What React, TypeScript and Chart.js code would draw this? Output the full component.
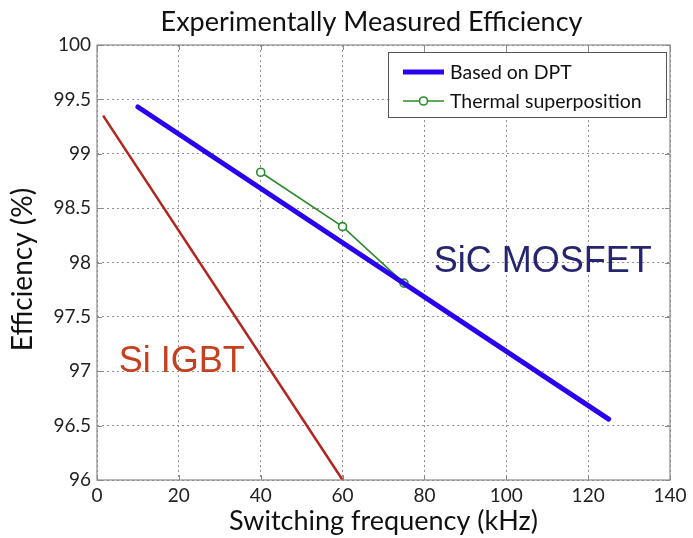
import React, { useEffect, useRef } from "react";
import { Chart, registerables } from "chart.js";

Chart.register(...registerables);

const TITLE = "Experimentally Measured Efficiency";
const X_LABEL = "Switching frequency (kHz)";
const Y_LABEL = "Efficiency (%)";

const dptFreq = [10, 125];
const dptEff = [99.43, 96.56];

const thermalFreq = [40, 60, 75];
const thermalEff = [98.83, 98.33, 97.81];

const igbtFreq = [1.5, 60];
const igbtEff = [99.35, 96.0];

const xTicks = [0, 20, 40, 60, 80, 100, 120, 140];
const yTicks = [96, 96.5, 97, 97.5, 98, 98.5, 99, 99.5, 100];

const annotations = [
  { text: "SiC MOSFET", x: 108.9, y: 98.0, color: "#26256f" },
  { text: "Si IGBT", x: 20.7, y: 97.08, color: "#c4401f" },
];

const FONT = "Lato, 'Open Sans', sans-serif";

const zip = (xs: number[], ys: number[]) => xs.map((x, i) => ({ x, y: ys[i] }));

const decorPlugin = {
  id: "decor",
  beforeDatasetsDraw(chart: any) {
    const { ctx, scales } = chart;
    ctx.save();
    ctx.textAlign = "center";
    ctx.textBaseline = "middle";
    ctx.font = "36px 'Liberation Sans', Arial, sans-serif";
    for (const a of annotations) {
      ctx.fillStyle = a.color;
      ctx.fillText(a.text, scales.x.getPixelForValue(a.x), scales.y.getPixelForValue(a.y));
    }
    ctx.restore();
  },
  afterDraw(chart: any) {
    const { ctx, chartArea, scales } = chart;
    const { left, right, top, bottom } = chartArea;
    ctx.save();
    // frame
    ctx.strokeStyle = "#8a8a8a";
    ctx.lineWidth = 1.2;
    ctx.strokeRect(left, top, right - left, bottom - top);
    // inward tick marks
    ctx.lineWidth = 1;
    ctx.beginPath();
    for (const v of xTicks) {
      const px = Math.round(scales.x.getPixelForValue(v)) + 0.5;
      ctx.moveTo(px, bottom); ctx.lineTo(px, bottom - 5);
      ctx.moveTo(px, top); ctx.lineTo(px, top + 5);
    }
    for (const v of yTicks) {
      const py = Math.round(scales.y.getPixelForValue(v)) + 0.5;
      ctx.moveTo(left, py); ctx.lineTo(left + 5, py);
      ctx.moveTo(right, py); ctx.lineTo(right - 5, py);
    }
    ctx.stroke();
    // title
    ctx.fillStyle = "#111";
    ctx.font = "27px " + FONT;
    ctx.textAlign = "center";
    ctx.textBaseline = "middle";
    ctx.fillText(TITLE, (left + right) / 2 - 12, 22);
    // y-axis label
    ctx.save();
    ctx.translate(23, (top + bottom) / 2 + 7);
    ctx.rotate(-Math.PI / 2);
    ctx.font = "28px " + FONT;
    ctx.fillText(Y_LABEL, 0, 0);
    ctx.restore();
    // legend
    const bw = 278, bh = 65;
    const bx = right - 4 - bw;
    const by = top + 7;
    ctx.fillStyle = "#fff";
    ctx.fillRect(bx, by, bw, bh);
    ctx.strokeStyle = "#555";
    ctx.lineWidth = 1;
    ctx.strokeRect(bx + 0.5, by + 0.5, bw, bh);
    const ds = chart.data.datasets;
    [ds[0], ds[1]].forEach((d: any, i: number) => {
      const ly = by + 20 + i * 29;
      ctx.strokeStyle = d.borderColor;
      ctx.lineWidth = d.borderWidth;
      ctx.beginPath();
      ctx.moveTo(bx + 15, ly);
      ctx.lineTo(bx + 56, ly);
      ctx.stroke();
      if (d.pointRadius > 0) {
        ctx.beginPath();
        ctx.arc(bx + 35.5, ly, d.pointRadius, 0, Math.PI * 2);
        ctx.fillStyle = "#fff";
        ctx.fill();
        ctx.lineWidth = d.pointBorderWidth;
        ctx.stroke();
      }
      ctx.fillStyle = "#111";
      ctx.font = "19.5px " + FONT;
      ctx.textAlign = "left";
      ctx.textBaseline = "middle";
      ctx.fillText(d.label, bx + 62, ly + 1);
    });
    ctx.restore();
  },
};

export default function App() {
  const ref = useRef<HTMLCanvasElement>(null);
  useEffect(() => {
    if (!ref.current) return;
    const chart = new Chart(ref.current, {
      type: "line",
      data: {
        datasets: [
          {
            label: "Based on DPT",
            data: zip(dptFreq, dptEff),
            borderColor: "#2a00f0",
            borderWidth: 5,
            pointRadius: 0,
            borderCapStyle: "round",
          },
          {
            label: "Thermal superposition",
            data: zip(thermalFreq, thermalEff),
            borderColor: "#2b8a2b",
            borderWidth: 1.6,
            pointRadius: 4,
            pointBorderWidth: 1.6,
            pointBackgroundColor: "#fff",
            pointBorderColor: "#2b8a2b",
          },
          {
            label: "Si IGBT",
            data: zip(igbtFreq, igbtEff),
            borderColor: "#b3241f",
            borderWidth: 2.5,
            pointRadius: 0,
          },
        ],
      },
      options: {
        animation: false,
        responsive: false,
        maintainAspectRatio: false,
        layout: { padding: { top: 45, right: 23, left: 0, bottom: 0 } },
        plugins: { legend: { display: false }, title: { display: false }, tooltip: { enabled: false } },
        scales: {
          x: {
            type: "linear",
            min: 0,
            max: 140,
            afterFit: (s: any) => { s.height = 58; },
            afterBuildTicks: (s: any) => { s.ticks = xTicks.map((v) => ({ value: v })); },
            ticks: { color: "#222", font: { size: 19, family: FONT }, padding: 4, maxRotation: 0 },
            grid: { color: "#8f8f8f", drawTicks: false },
            border: { display: false, dash: [2, 3] },
            title: { display: true, text: X_LABEL, color: "#111", font: { size: 27, family: FONT }, padding: { top: 0, bottom: 1 } },
          },
          y: {
            type: "linear",
            min: 96,
            max: 100,
            afterFit: (s: any) => { s.width = 97; },
            afterBuildTicks: (s: any) => { s.ticks = yTicks.map((v) => ({ value: v })); },
            ticks: { color: "#222", font: { size: 19, family: FONT }, padding: 6, callback: (v: any) => String(v) },
            grid: { color: "#8f8f8f", drawTicks: false },
            border: { display: false, dash: [2, 3] },
            title: { display: false },
          },
        },
      } as any,
      plugins: [decorPlugin],
    });
    return () => chart.destroy();
  }, []);
  return (
    <div style={{ position: "absolute", left: 0, top: 0, width: 693, height: 538, background: "#fff" }}>
      <canvas ref={ref} width={693} height={538} />
    </div>
  );
}
